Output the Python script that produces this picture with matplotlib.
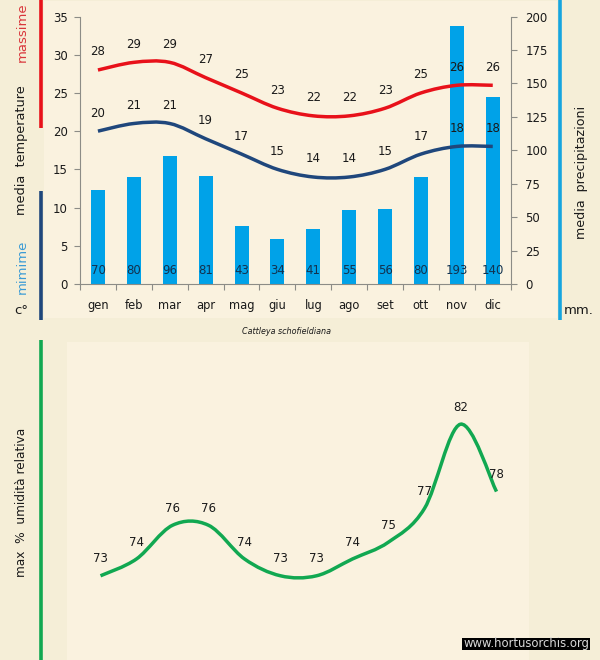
import matplotlib
matplotlib.use("Agg")
import matplotlib.pyplot as plt
from matplotlib.path import Path
from matplotlib.patches import PathPatch, Rectangle
from matplotlib.lines import Line2D

months = ["gen", "feb", "mar", "apr", "mag", "giu", "lug", "ago", "set", "ott", "nov", "dic"]
temp_max = [28, 29, 29, 27, 25, 23, 22, 22, 23, 25, 26, 26]
temp_min = [20, 21, 21, 19, 17, 15, 14, 14, 15, 17, 18, 18]
rain = [70, 80, 96, 81, 43, 34, 41, 55, 56, 80, 193, 140]
humidity = [73, 74, 76, 76, 74, 73, 73, 74, 75, 77, 82, 78]
temp_ticks = [0, 5, 10, 15, 20, 25, 30, 35]
rain_ticks = [0, 25, 50, 75, 100, 125, 150, 175, 200]

W, H = 600, 660
OUTER = "#F5EED7"
INNER = "#FAF2DF"
TXT = "#1a1a1a"
GRAY = "#8c8c86"
RED = "#E8111A"
NAVY = "#1F477C"
GREEN = "#11A851"
BAR = "#00A2E8"
SIDE_BLUE = "#16A5DF"
FONT = "DejaVu Sans"

plt.rcParams["font.family"] = FONT
fig = plt.figure(figsize=(W / 100, H / 100), dpi=100, facecolor=OUTER)


def box(x0, y0, x1, y1):
    return [x0 / W, 1 - y1 / H, (x1 - x0) / W, (y1 - y0) / H]


def smooth(ax, xs, ys, color):
    """Smoothed line through the data points, as Bezier segments."""
    n = len(xs)
    verts = [(xs[0], ys[0])]
    codes = [Path.MOVETO]
    for i in range(n - 1):
        a, b = max(i - 1, 0), min(i + 2, n - 1)
        verts.append((xs[i] + (xs[i + 1] - xs[a]) / 6, ys[i] + (ys[i + 1] - ys[a]) / 6))
        verts.append((xs[i + 1] - (xs[b] - xs[i]) / 6, ys[i + 1] - (ys[b] - ys[i]) / 6))
        verts.append((xs[i + 1], ys[i + 1]))
        codes += [Path.CURVE4] * 3
    ax.add_patch(PathPatch(Path(verts, codes), fc="none", ec=color, lw=2.5, capstyle="butt", zorder=3))


page = fig.add_axes([0, 0, 1, 1], zorder=0)
page.set_xlim(0, W)
page.set_ylim(H, 0)
page.axis("off")
page.add_patch(Rectangle((44, 1), 513, 317, fc=INNER, ec="none"))
page.add_patch(Rectangle((67, 342), 462, 318, fc=INNER, ec="none"))

# top chart
xs = list(range(12))
ax2 = fig.add_axes(box(80, 16.5, 510.7, 284), zorder=1)
ax2.patch.set_visible(False)
ax2.bar(xs, rain, width=0.39, color=BAR, zorder=2)
ax2.set_xlim(-0.5, 11.5)
ax2.set_ylim(0, 200)
ax2.yaxis.tick_right()
ax2.set_yticks(rain_ticks)
ax2.set_xticks([])
for s in ("top", "left", "bottom"):
    ax2.spines[s].set_visible(False)
ax2.spines["right"].set_color(GRAY)
ax2.tick_params(axis="y", length=4, color=GRAY, labelsize=8.5, labelcolor=TXT, pad=6.5)

ax = fig.add_axes(box(80, 16.5, 510.7, 284), zorder=2)
ax.patch.set_visible(False)
ax.set_xlim(-0.5, 11.5)
ax.set_ylim(0, 35)
ax.set_yticks(temp_ticks)
ax.set_xticks([i - 0.5 for i in range(13)])
ax.set_xticklabels([])
ax.set_xticks(xs, minor=True)
ax.set_xticklabels(months, minor=True)
for s in ("top", "right"):
    ax.spines[s].set_visible(False)
ax.spines["left"].set_color(GRAY)
ax.spines["bottom"].set_color(GRAY)
ax.tick_params(axis="y", length=4, color=GRAY, labelsize=8.5, labelcolor=TXT, pad=5)
ax.tick_params(axis="x", which="major", length=4, color=GRAY)
ax.tick_params(axis="x", which="minor", length=0, labelsize=8.3, labelcolor=TXT, pad=10.5)

smooth(ax, xs, temp_max, RED)
smooth(ax, xs, temp_min, NAVY)
for x, a, b, r in zip(xs, temp_max, temp_min, rain):
    ax.annotate(str(a), (x, a), xytext=(0, 13), textcoords="offset points", ha="center", va="center", fontsize=8.5, color=TXT, zorder=5)
    ax.annotate(str(b), (x, b), xytext=(0, 13), textcoords="offset points", ha="center", va="center", fontsize=8.5, color=TXT, zorder=5)
    ax.annotate(str(r), (x, 0), xytext=(0, 10), textcoords="offset points", ha="center", va="center", fontsize=8.5, color="#12324f", zorder=5)

# bottom chart
ax3 = fig.add_axes(box(82.5, 340, 514.5, 660), zorder=1)
ax3.patch.set_visible(False)
ax3.set_xlim(-0.5, 11.5)
ax3.set_ylim(68, 87)
ax3.axis("off")
smooth(ax3, xs, humidity, GREEN)
for x, h in zip(xs, humidity):
    ax3.annotate(str(h), (x, h), xytext=(0, 12.2), textcoords="offset points", ha="center", va="center", fontsize=8.5, color=TXT, zorder=5)

top = fig.add_axes([0, 0, 1, 1], zorder=5)
top.patch.set_visible(False)
top.set_xlim(0, W)
top.set_ylim(H, 0)
top.axis("off")
top.add_line(Line2D([40.5, 40.5], [0, 128], color=RED, lw=2.6, solid_capstyle="butt"))
top.add_line(Line2D([40.5, 40.5], [191, 320], color=NAVY, lw=2.6, solid_capstyle="butt"))
top.add_line(Line2D([559.5, 559.5], [0, 320], color=SIDE_BLUE, lw=2.6, solid_capstyle="butt"))
top.add_line(Line2D([40.5, 40.5], [340, 660], color=GREEN, lw=2.6, solid_capstyle="butt"))

side = dict(rotation=90, ha="center", va="center")
top.text(22, 32, "massime", color="#D9363B", fontsize=9.5, **side)
top.text(22, 150, "media  temperature", color=TXT, fontsize=9.3, **side)
top.text(22, 267, "mimime", color="#3A9BD5", fontsize=9.5, **side)
top.text(21, 310, "c°", color=TXT, ha="center", va="center", fontsize=9.5)
top.text(581, 172, "media  precipitazioni", color=TXT, fontsize=9.1, **side)
top.text(579, 310, "mm.", color=TXT, ha="center", va="center", fontsize=9.5)
top.text(22, 502, "max  %  umidità relativa", color=TXT, fontsize=8.7, **side)
top.text(286, 332, "Cattleya schofieldiana", color=TXT, style="italic", ha="center", va="center", fontsize=5.8)
top.add_patch(Rectangle((462, 638), 128, 12, fc="black", ec="none"))
top.text(526, 644, "www.hortusorchis.org", color="#d8d8d8", ha="center", va="center", fontsize=8.4)

fig.savefig("out.png", dpi=100, facecolor=OUTER)
